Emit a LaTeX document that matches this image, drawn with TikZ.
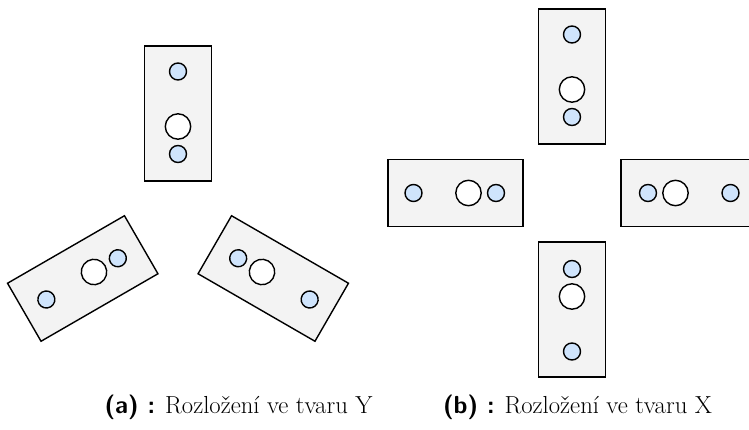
\documentclass[tikz,border=0pt]{standalone}
\usepackage{tikz}
\usetikzlibrary{calc}
\usepackage{xcolor}
\definecolor{boardgray}{RGB}{243,243,243}
\definecolor{pinblue}{RGB}{207,228,252}

\begin{document}
\begin{tikzpicture}[x=0.75pt, y=0.75pt,
  board/.style={draw, line width=1.05pt, fill=boardgray},
  pin/.style={draw, line width=1.05pt, fill=pinblue},
  hole/.style={draw, line width=1.05pt, fill=white},
  pics/module/.style={code={
    \draw[board] (-33.5,-67.5) rectangle (33.5,67.5);
    \draw[pin] (0,42) circle (8.5);
    \draw[hole] (0,-13) circle (12.7);
    \draw[pin] (0,-40.5) circle (8.5);
  }},
  every node/.style={font=\fontsize{18.5}{22}\selectfont}]
\useasboundingbox (0,0) rectangle (749,429);

% three modules round a common centre
\coordinate (ymid) at (178,205.5);
\foreach \a [count=\i] in {90,210,330}
  \pic[rotate=\a-90] (y\i) at ([shift={(\a:110)}]ymid) {module};

% four modules in a cross
\coordinate (xmid) at (572,236);
\foreach \a [count=\i] in {90,180,270,0}
  \pic[rotate=\a-90] (x\i) at ([shift={(\a:116.5)}]xmid) {module};

\node[anchor=base] (capa) at (238.5,16) {{\sffamily\bfseries (a) :} Rozložení ve tvaru Y};
\node[anchor=base] (capb) at (577.5,16) {{\sffamily\bfseries (b) :} Rozložení ve tvaru X};
\end{tikzpicture}
\end{document}
